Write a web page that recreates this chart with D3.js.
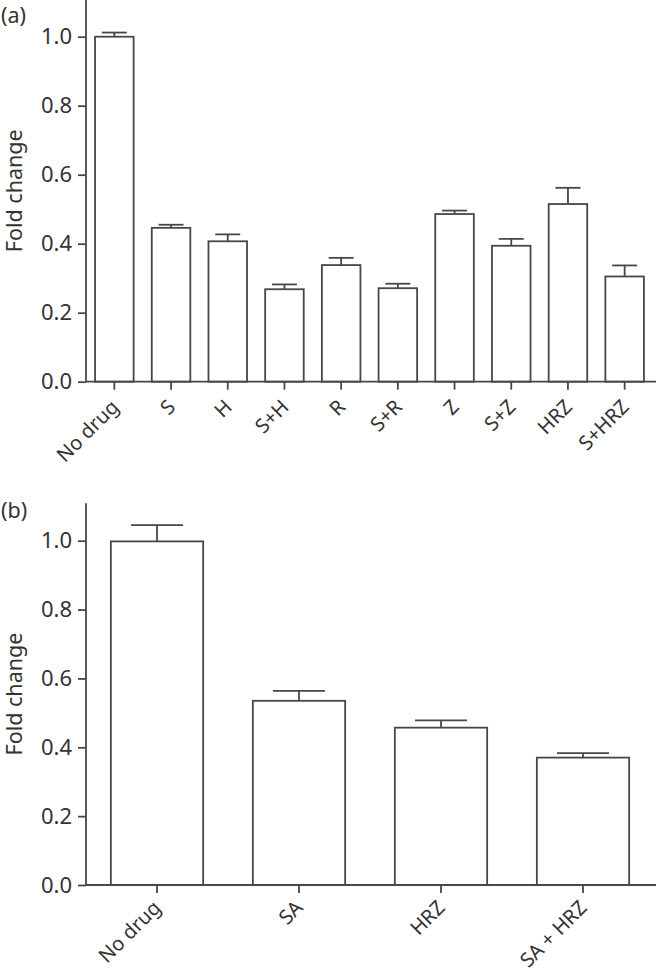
<!DOCTYPE html>
<html>
<head>
<meta charset="utf-8">
<script src="https://cdn.jsdelivr.net/npm/d3@7"></script>
<style>
  html, body { margin: 0; padding: 0; background: #fff; }
  svg { display: block; }
  text { font-family: "Noto Sans", "Open Sans", sans-serif; fill: #333; }
</style>
</head>
<body>
<svg id="chart" width="656" height="972"></svg>
<script>
// ---- Data ----
const categoriesA = ["No drug", "S", "H", "S+H", "R", "S+R", "Z", "S+Z", "HRZ", "S+HRZ"];
const valuesA     = [1.000, 0.446, 0.407, 0.268, 0.338, 0.271, 0.486, 0.394, 0.515, 0.305];
const errorsA     = [0.012, 0.009, 0.020, 0.014, 0.021, 0.013, 0.010, 0.020, 0.047, 0.032];

const categoriesB = ["No drug", "SA", "HRZ", "SA + HRZ"];
const valuesB     = [0.998, 0.535, 0.457, 0.370];
const errorsB     = [0.047, 0.029, 0.021, 0.013];

const yTicks = [0.0, 0.2, 0.4, 0.6, 0.8, 1.0];
const yTitle = "Fold change";
const panelTags = ["(a)", "(b)"];

// ---- Drawing ----
const svg = d3.select("#chart");
const ink = "#474747";

function drawPanel(cfg) {
  const g = svg.append("g");
  const y = d3.scaleLinear().domain([0, 1]).range([cfg.y0, cfg.y1]);
  const x = d3.scaleBand().domain(cfg.cats).range([cfg.xLeft, cfg.xRight])
    .paddingInner(cfg.padIn).paddingOuter(cfg.padOut);

  // y axis
  const yAxis = d3.axisLeft(y).tickValues(yTicks).tickFormat(d3.format(".1f"))
    .tickSize(8).tickPadding(6).tickSizeOuter(0);
  const ya = g.append("g").attr("transform", `translate(${cfg.xLeft},0)`).call(yAxis);
  ya.select(".domain").remove();
  ya.selectAll(".tick line").attr("stroke", ink).attr("stroke-width", 1.8);
  ya.selectAll(".tick text").attr("font-size", 22).style("fill", "#333")
    .attr("font-family", "Noto Sans, Open Sans, sans-serif");
  g.append("line")
    .attr("x1", cfg.xLeft).attr("x2", cfg.xLeft)
    .attr("y1", y(0)).attr("y2", y(cfg.yTop))
    .attr("stroke", ink).attr("stroke-width", 1.8);

  // bars
  g.selectAll("rect.bar").data(cfg.cats).enter().append("rect")
    .attr("class", "bar")
    .attr("x", d => x(d))
    .attr("width", x.bandwidth())
    .attr("y", (d, i) => y(cfg.vals[i]))
    .attr("height", (d, i) => y(0) - y(cfg.vals[i]))
    .attr("fill", "#fff").attr("stroke", ink).attr("stroke-width", 1.8);

  // error bars
  const eb = g.selectAll("g.err").data(cfg.cats).enter().append("g").attr("class", "err");
  eb.append("line")
    .attr("x1", d => x(d) + x.bandwidth() / 2).attr("x2", d => x(d) + x.bandwidth() / 2)
    .attr("y1", (d, i) => y(cfg.vals[i])).attr("y2", (d, i) => y(cfg.vals[i] + cfg.errs[i]))
    .attr("stroke", ink).attr("stroke-width", 1.8);
  eb.append("line")
    .attr("x1", d => x(d) + x.bandwidth() / 2 - cfg.cap / 2)
    .attr("x2", d => x(d) + x.bandwidth() / 2 + cfg.cap / 2)
    .attr("y1", (d, i) => y(cfg.vals[i] + cfg.errs[i])).attr("y2", (d, i) => y(cfg.vals[i] + cfg.errs[i]))
    .attr("stroke", ink).attr("stroke-width", 1.8);

  // x axis
  g.append("line")
    .attr("x1", cfg.xLeft).attr("x2", 656)
    .attr("y1", y(0)).attr("y2", y(0))
    .attr("stroke", ink).attr("stroke-width", 1.8);
  const xt = g.selectAll("g.xt").data(cfg.cats).enter().append("g").attr("class", "xt")
    .attr("transform", d => `translate(${x(d) + x.bandwidth() / 2},${y(0)})`);
  xt.append("line").attr("y1", 0).attr("y2", 8).attr("stroke", ink).attr("stroke-width", 1.8);
  xt.append("text")
    .attr("transform", `translate(${cfg.lblDx},${cfg.lblDy}) rotate(-45)`)
    .attr("text-anchor", "end")
    .attr("font-size", 20)
    .text(d => d);

  // y title
  g.append("text")
    .attr("transform", `translate(22,${(y(0) + y(cfg.yTop)) / 2}) rotate(-90)`)
    .attr("text-anchor", "middle")
    .attr("font-size", 21.5)
    .text(yTitle);

  // panel tag
  g.append("text").attr("x", 1).attr("y", cfg.tagY).attr("font-size", 21.5).text(cfg.tag);
}

drawPanel({
  cats: categoriesA, vals: valuesA, errs: errorsA,
  y0: 381.7, y1: 36.7, yTop: 1.107, xLeft: 86, xRight: 653,
  padIn: 0.32, padOut: 0.16, cap: 25, tag: panelTags[0], tagY: 23,
  lblDx: 5.5, lblDy: 26.5
});
drawPanel({
  cats: categoriesB, vals: valuesB, errs: errorsB,
  y0: 885, y1: 540.7, yTop: 1.109, xLeft: 86, xRight: 654,
  padIn: 0.35, padOut: 0.175, cap: 52, tag: panelTags[1], tagY: 518,
  lblDx: 5, lblDy: 24
});
</script>
</body>
</html>
